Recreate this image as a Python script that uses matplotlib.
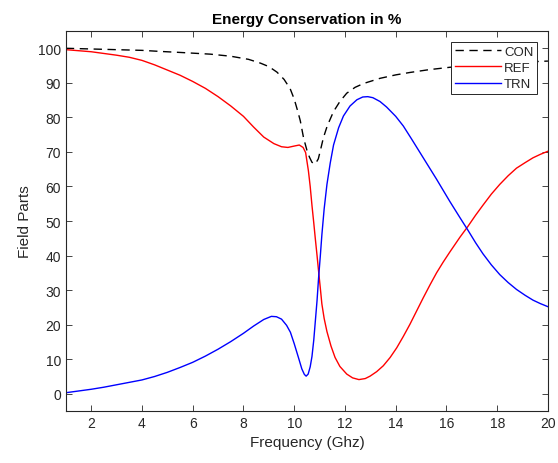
import matplotlib
matplotlib.use("Agg")
import matplotlib.pyplot as plt

# values
freq_ref = [1.0, 1.5, 2.0, 2.5, 3.0, 3.5, 4.0, 4.5, 5.0, 5.5, 6.0, 6.5, 7.0, 7.5,
            8.0, 8.4, 8.8, 9.2, 9.5, 9.75, 10.0, 10.2, 10.35, 10.45, 10.56, 10.63,
            10.7, 10.77, 10.83, 10.9, 10.96, 11.03, 11.09, 11.18, 11.29, 11.45,
            11.61, 11.8, 12.07, 12.3, 12.55, 12.8, 12.99, 13.25, 13.51, 13.78,
            14.04, 14.3, 14.56, 14.82, 15.08, 15.35, 15.61, 15.87, 16.13, 16.53,
            16.85, 17.15, 17.44, 17.77, 18.1, 18.43, 18.76, 19.1, 19.41, 19.7, 20.0]
ref = [99.6, 99.3, 99.0, 98.5, 98.0, 97.4, 96.5, 95.2, 93.7, 92.2, 90.4, 88.4,
       86.0, 83.3, 80.3, 77.2, 74.3, 72.4, 71.5, 71.3, 71.7, 72.0, 71.3, 69.8,
       64.5, 60.0, 54.5, 49.5, 45.0, 40.0, 35.5, 30.5, 26.0, 21.8, 18.0, 13.8,
       10.5, 7.9, 5.7, 4.6, 4.1, 4.4, 5.1, 6.4, 8.1, 10.5, 13.3, 16.6, 20.1,
       23.9, 27.7, 31.5, 35.0, 38.1, 41.0, 45.3, 48.5, 51.7, 54.6, 57.8, 60.6,
       63.1, 65.3, 66.9, 68.3, 69.3, 70.2]

freq_trn = [1.0, 1.5, 2.0, 2.5, 3.0, 3.5, 4.0, 4.5, 5.0, 5.5, 6.0, 6.5, 7.0, 7.5,
            8.0, 8.4, 8.8, 9.1, 9.3, 9.5, 9.7, 9.85, 10.0, 10.17, 10.3, 10.4,
            10.47, 10.55, 10.63, 10.7, 10.77, 10.83, 10.9, 10.96, 11.03, 11.09,
            11.18, 11.29, 11.42, 11.55, 11.75, 11.94, 12.2, 12.47, 12.7, 12.9,
            13.1, 13.38, 13.64, 14.0, 14.3, 14.62, 14.95, 15.28, 15.61, 15.87,
            16.13, 16.53, 16.85, 17.15, 17.44, 17.77, 18.1, 18.43, 18.76, 19.1,
            19.41, 19.7, 20.0]
trn = [0.3, 0.8, 1.3, 1.9, 2.6, 3.3, 4.0, 5.0, 6.2, 7.6, 9.1, 10.9, 12.9, 15.1,
       17.5, 19.6, 21.5, 22.4, 22.3, 21.6, 19.8, 17.8, 14.5, 10.4, 7.2, 5.6,
       5.1, 5.7, 7.8, 10.8, 15.5, 20.8, 27.0, 33.5, 40.0, 46.0, 53.5, 60.6,
       66.8, 72.0, 77.0, 80.4, 83.3, 85.1, 85.9, 86.0, 85.7, 84.6, 83.0, 80.3,
       77.5, 73.8, 69.9, 66.0, 62.1, 58.9, 55.7, 51.0, 47.3, 43.7, 40.5, 37.3,
       34.5, 32.2, 30.2, 28.5, 27.1, 26.1, 25.2]

freq_con = [1.0, 2.0, 3.0, 4.0, 4.7, 5.5, 6.7, 7.5, 8.2, 8.67, 9.0, 9.32, 9.6,
            9.84, 10.0, 10.15, 10.24, 10.37, 10.5, 10.6, 10.7, 10.83, 10.95,
            11.05, 11.15, 11.3, 11.55, 11.8, 12.07, 12.4, 12.73, 13.38, 14.0,
            14.56, 15.3, 16.13, 17.0, 18.0, 19.0, 20.0]
con = [100.0, 99.8, 99.6, 99.4, 99.1, 98.8, 98.3, 97.7, 96.8, 95.7, 94.7, 93.1,
       91.0, 88.3, 85.3, 81.5, 79.0, 74.0, 70.5, 68.5, 67.0, 66.5, 68.0, 71.0,
       74.1, 77.5, 81.7, 84.6, 87.0, 88.7, 89.8, 91.3, 92.3, 93.0, 93.8, 94.5,
       95.0, 95.5, 96.0, 96.3]

x_ticks = [2, 4, 6, 8, 10, 12, 14, 16, 18, 20]
y_ticks = [0, 10, 20, 30, 40, 50, 60, 70, 80, 90, 100]

txt = "#262626"
plt.rcParams["font.family"] = ["Liberation Sans", "DejaVu Sans"]
plt.rcParams["axes.edgecolor"] = txt
plt.rcParams["xtick.color"] = txt
plt.rcParams["ytick.color"] = txt

fig = plt.figure(figsize=(5.58, 4.64), dpi=100)
ax = fig.add_axes([0.118, 0.112, 0.864, 0.819])

ax.plot(freq_con, con, color="black", linestyle=(0, (6, 4)), linewidth=1.0, label="CON")
ax.plot(freq_ref, ref, color="red", linewidth=1.0, label="REF")
ax.plot(freq_trn, trn, color="blue", linewidth=1.0, label="TRN")

ax.set_xlim(1, 20)
ax.set_ylim(-5, 105)
ax.set_xticks(x_ticks)
ax.set_yticks(y_ticks)
ax.tick_params(direction="in", top=True, right=True, length=4, width=0.6,
               labelsize=10, labelcolor=txt)
for s in ax.spines.values():
    s.set_linewidth(0.8)

ax.set_title("Energy Conservation in %", fontsize=11, fontweight="bold", color="black", pad=6)
ax.set_xlabel("Frequency (Ghz)", fontsize=11, color=txt)
ax.set_ylabel("Field Parts", fontsize=11, color=txt)

leg = ax.legend(loc="upper right", fontsize=9.5, fancybox=False, framealpha=1,
                edgecolor=txt, handlelength=3.5, borderaxespad=0.8,
                borderpad=0.3, labelspacing=0.3, handletextpad=0.25)
leg.get_frame().set_linewidth(0.7)
for t in leg.get_texts():
    t.set_color(txt)

fig.savefig("out.png", dpi=100)
